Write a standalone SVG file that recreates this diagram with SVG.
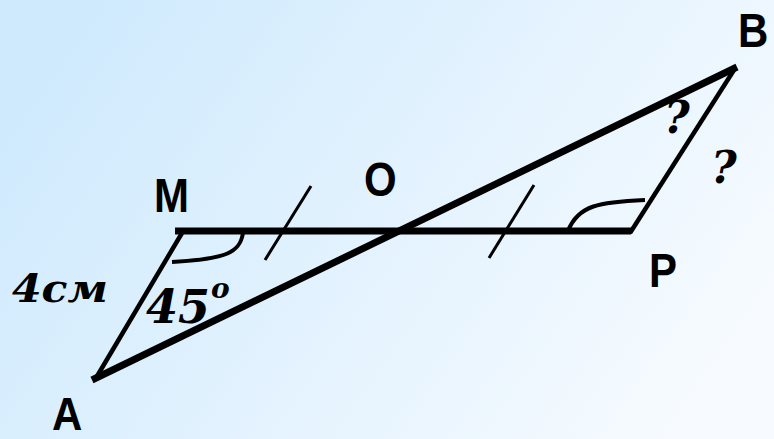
<svg xmlns="http://www.w3.org/2000/svg" width="774" height="439" viewBox="0 0 774 439">
<defs>
<linearGradient id="bg" x1="0" y1="0.3" x2="1" y2="0.7">
<stop offset="0" stop-color="#cfeafd"/>
<stop offset="1" stop-color="#f7fbff"/>
</linearGradient>
<style>
.thick{stroke:#000;stroke-width:7;fill:none;stroke-linecap:butt}
.thin{stroke:#000;stroke-width:4.5;fill:none}
.tick{stroke:#000;stroke-width:3;fill:none}
.arc{stroke:#000;stroke-width:4;fill:none}
.lbl{font-family:"Liberation Sans",Arial,sans-serif;font-weight:bold;font-size:42px;fill:#000}
.it{font-family:"DejaVu Serif","Liberation Serif",serif;font-weight:bold;font-style:italic;fill:#000}
</style>
</defs>
<rect width="774" height="439" fill="url(#bg)"/>
<g id="connectors">
<line class="thick" x1="175" y1="231" x2="631" y2="231"/>
<line class="thick" x1="92" y1="380" x2="737" y2="67"/>
<line class="thin" x1="182" y1="233" x2="96" y2="378"/>
<line class="thin" x1="734" y1="70" x2="630" y2="233"/>
<line class="tick" x1="265" y1="260" x2="311" y2="186"/>
<line class="tick" x1="489" y1="258" x2="534" y2="185"/>
<path class="arc" d="M243 233 C240 252 228 259 172 262"/>
<path class="arc" d="M568 231 C578 205 600 202 645 200"/>
</g>
<g id="node-M"><text class="lbl" transform="translate(154,212) scale(1,1.15)">M</text></g>
<g id="node-O"><text class="lbl" transform="translate(364,196) scale(1,1.15)">O</text></g>
<g id="node-P"><text class="lbl" transform="translate(649,287) scale(1,1.15)">P</text></g>
<g id="node-B"><text class="lbl" transform="translate(738,47) scale(1,1.15)">B</text></g>
<g id="node-A"><text class="lbl" transform="translate(52,430) scale(1,1.1)">A</text></g>
<g id="label-4cm"><text class="it" x="12" y="302" font-size="40" textLength="96" lengthAdjust="spacingAndGlyphs">4см</text></g>
<g id="label-45"><text class="it" x="146" y="323" font-size="46">45<tspan dx="1" dy="-25" font-size="28">o</tspan></text></g>
<g id="label-q1"><text class="it" x="664" y="133" font-size="44">?</text></g>
<g id="label-q2"><text class="it" x="711" y="183" font-size="44">?</text></g>
</svg>
